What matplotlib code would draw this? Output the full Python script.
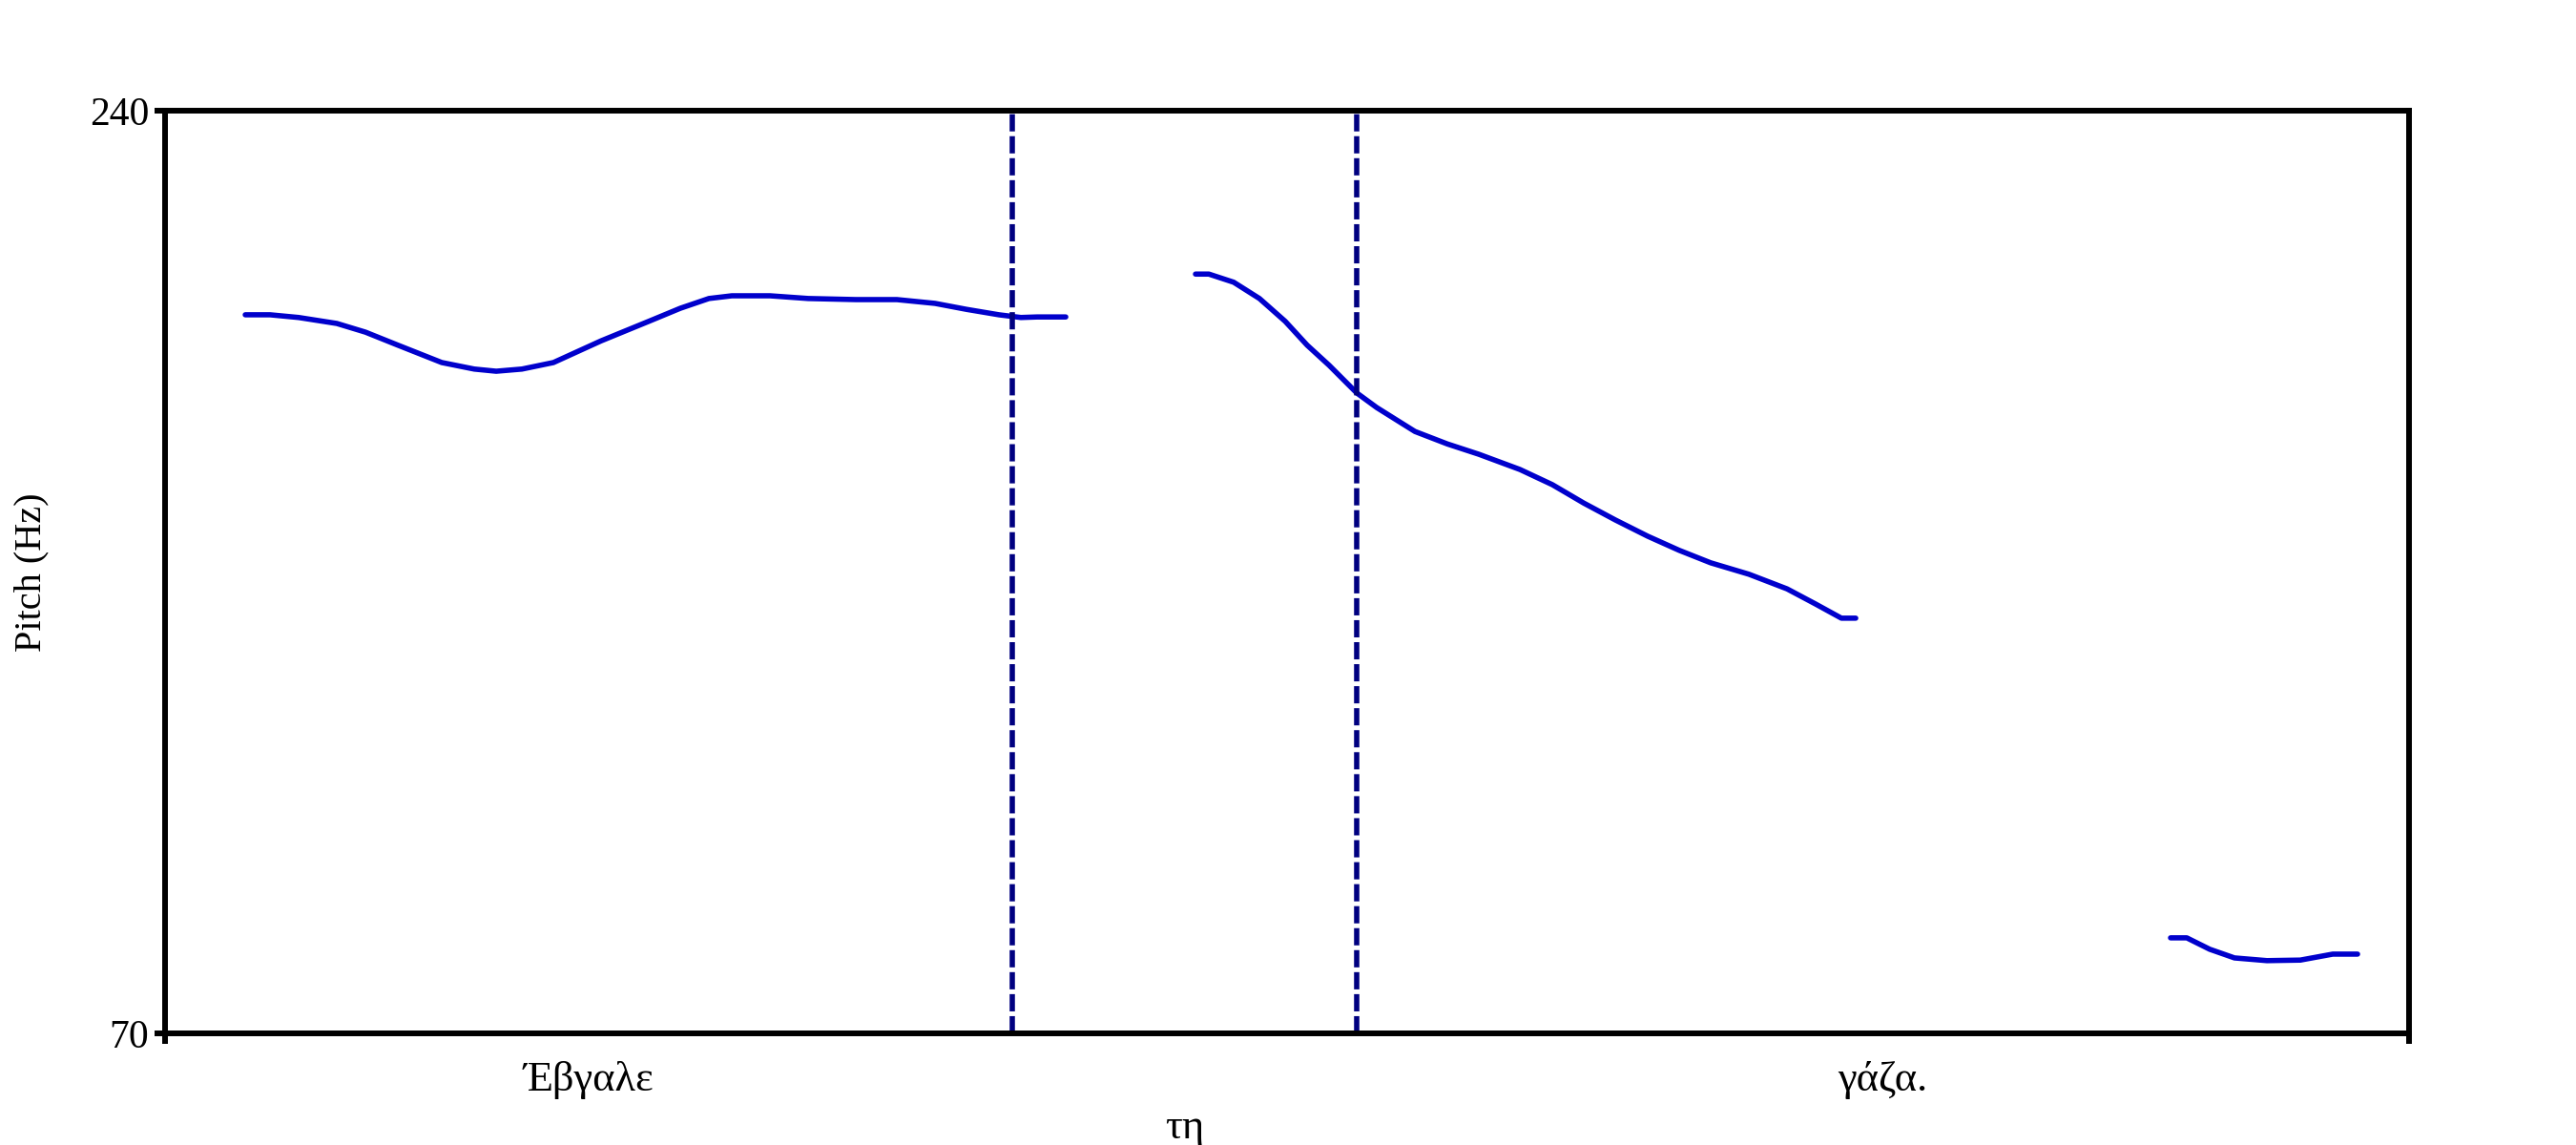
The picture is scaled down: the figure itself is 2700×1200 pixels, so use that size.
import matplotlib
matplotlib.use("Agg")
import matplotlib.pyplot as plt

plt.rcParams["font.family"] = ["Liberation Serif", "DejaVu Serif"]
plt.rcParams["lines.scale_dashes"] = False

# pitch track (time s, Hz)
seg1_t = [0.084, 0.110, 0.140, 0.180, 0.210, 0.244, 0.290, 0.324, 0.347, 0.374, 0.407,
          0.457, 0.507, 0.540, 0.570, 0.594, 0.634, 0.674, 0.724, 0.767, 0.807, 0.840,
          0.874, 0.897, 0.914, 0.944]
seg1_hz = [202.4, 202.4, 201.9, 200.8, 199.2, 196.8, 193.6, 192.4, 192.0, 192.4, 193.6,
           197.6, 201.2, 203.6, 205.4, 205.9, 205.9, 205.4, 205.2, 205.2, 204.5, 203.4,
           202.4, 201.9, 202.0, 202.0]

seg2_t = [1.080, 1.094, 1.120, 1.147, 1.174, 1.197, 1.220, 1.249, 1.270, 1.310, 1.344,
          1.377, 1.420, 1.454, 1.487, 1.520, 1.554, 1.587, 1.620, 1.660, 1.700, 1.730,
          1.757, 1.772]
seg2_hz = [209.9, 209.9, 208.4, 205.4, 201.2, 196.8, 193.1, 188.0, 185.3, 180.9, 178.6,
           176.7, 173.9, 171.1, 167.7, 164.6, 161.6, 159.0, 156.7, 154.6, 151.9, 149.1,
           146.5, 146.5]

seg3_t = [2.102, 2.119, 2.143, 2.169, 2.203, 2.238, 2.272, 2.298]
seg3_hz = [87.6, 87.6, 85.5, 83.9, 83.4, 83.5, 84.6, 84.6]

# word boundaries and labels
t_end = 2.352
boundaries = [0.888, 1.249]
words = ["Έβγαλε", "τη", "γάζα."]
y_min, y_max = 70, 240

fig = plt.figure(figsize=(27, 12), dpi=100)
ax = fig.add_axes([0.0641, 0.0975, 0.8711, 0.8058])

for t, hz in [(seg1_t, seg1_hz), (seg2_t, seg2_hz), (seg3_t, seg3_hz)]:
    ax.plot(t, hz, color="#0000CC", lw=4, solid_capstyle="round", solid_joinstyle="round")

for b in boundaries:
    ax.axvline(b, color="#000080", lw=4, linestyle=(0, (13, 3.6)))

ax.set_xlim(0, t_end)
ax.set_ylim(y_min, y_max)
ax.set_yticks([y_min, y_max])
ax.set_xticks([0, t_end])
ax.set_xticklabels([])
ax.tick_params(axis="both", direction="out", length=8, width=4.3, labelsize=30, pad=4)
for s in ax.spines.values():
    s.set_linewidth(4.3)
ax.set_ylabel("Pitch (Hz)", fontsize=29, labelpad=31)

# words centred in their intervals, short middle word dropped lower
edges = [0] + boundaries + [t_end]
for i, w in enumerate(words):
    mid = (edges[i] + edges[i + 1]) / 2
    off_px = 99 if i == 1 else 49
    ax.annotate(w, xy=(mid, 0), xycoords=("data", "axes fraction"),
                xytext=(0, -off_px * 0.72), textcoords="offset points",
                ha="center", va="center", fontsize=32)

fig.savefig("out.png", dpi=100)
